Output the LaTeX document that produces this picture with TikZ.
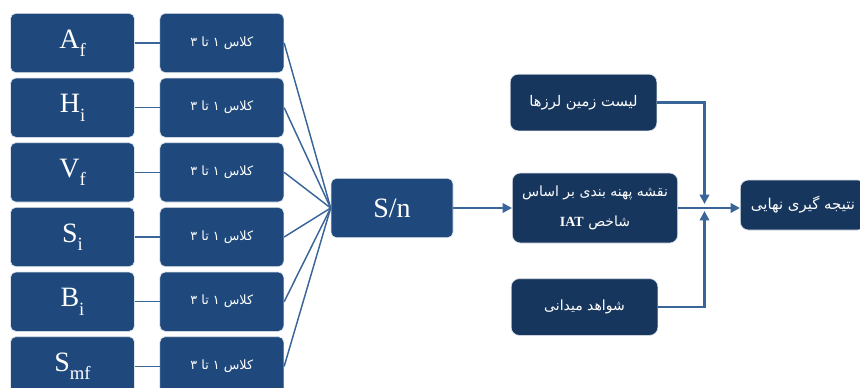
\documentclass[tikz,border=0pt]{standalone}
\usepackage{fontspec}
\setmainfont{Liberation Serif}
\newfontfamily\farsi[Script=Arabic]{DejaVu Sans}
\TeXXeTstate=1
\usepackage{tikz}
\usetikzlibrary{positioning, arrows.meta}
\definecolor{boxblue}{RGB}{31,73,125}
\definecolor{darkblue}{RGB}{23,54,93}
\definecolor{lineblue}{RGB}{58,101,152}
\tikzstyle{factor} = [rectangle, rounded corners=4pt, minimum width=93pt, minimum height=44.5pt, text centered, draw=white!85!boxblue, line width=0.5pt, fill=boxblue, text=white, font=\fontsize{21}{24}\selectfont]
\tikzstyle{klass} = [factor, font=\farsi\fontsize{9.6}{11}\selectfont]
\tikzstyle{source} = [rectangle, rounded corners=6pt, minimum width=110pt, minimum height=42.5pt, text centered, align=center, draw=white!85!darkblue, line width=0.5pt, fill=darkblue, text=white, font=\farsi\fontsize{10.5}{22}\selectfont]
\tikzstyle{link} = [lineblue, line width=1.1pt]
\tikzstyle{arrow} = [lineblue, line width=1.8pt, -{Triangle[length=7pt,width=7pt]}]
\newcommand{\fsub}[2]{#1\raisebox{-0.3em}{\fontsize{14}{14}\selectfont #2}}
\newcommand{\fa}[1]{\beginR #1\endR}

\begin{document}
\begin{tikzpicture}[x=0.75pt, y=-0.75pt]
  \useasboundingbox (0,0) rectangle (860,387);

        % Indicators
        \node (af) [factor] at (72.5,43) {\fsub{A}{f}};
        \node (hi) [factor, below=3.5pt of af] {\fsub{H}{i}};
        \node (vf) [factor, below=3.5pt of hi] {\fsub{V}{f}};
        \node (si) [factor, below=3.5pt of vf] {\fsub{S}{i}};
        \node (bi) [factor, below=3.5pt of si] {\fsub{B}{i}};
        \node (smf) [factor, below=3.5pt of bi] {\fsub{S}{mf}};

        % Classes
        \node (caf) [klass, right=18.5pt of af] {\fa{کلاس ۱ تا ۳}};
        \node (chi) [klass, right=18.5pt of hi] {\fa{کلاس ۱ تا ۳}};
        \node (cvf) [klass, right=18.5pt of vf] {\fa{کلاس ۱ تا ۳}};
        \node (csi) [klass, right=18.5pt of si] {\fa{کلاس ۱ تا ۳}};
        \node (cbi) [klass, right=18.5pt of bi] {\fa{کلاس ۱ تا ۳}};
        \node (csmf) [klass, right=18.5pt of smf] {\fa{کلاس ۱ تا ۳}};

        % Combined index
        \node (sn) [factor, minimum width=91.5pt] at (392,208) {S/n};

        % Sources
        \node (zoning) [source, minimum width=124pt, minimum height=52.5pt] at (595,208) {\fa{نقشه پهنه بندی بر اساس}\\\fa{شاخص \beginL{\rmfamily\bfseries IAT}\endL}};
        \node (quakes) [source, font=\farsi\fontsize{11}{14}\selectfont] at (583.5,102.5) {\fa{لیست زمین لرزها}};
        \node (field) [source] at (584.5,307) {\fa{شواهد میدانی}};

        % Result
        \node (result) [source, minimum width=94pt, minimum height=37.5pt, anchor=west, font=\farsi\fontsize{11.2}{14}\selectfont] at (740,205) {\fa{نتیجه گیری نهایی}};

        \coordinate (jtop) at (704.5,204);
        \coordinate (jbot) at (704.5,211);

        % Links
        \draw [link] (af) -- (caf);
        \draw [link] (hi) -- (chi);
        \draw [link] (vf) -- (cvf);
        \draw [link] (si) -- (csi);
        \draw [link] (bi) -- (cbi);
        \draw [link] (smf) -- (csmf);

        \draw [link] (caf.east) -- (sn.west);
        \draw [link] (chi.east) -- (sn.west);
        \draw [link] (cvf.east) -- (sn.west);
        \draw [link] (csi.east) -- (sn.west);
        \draw [link] (cbi.east) -- (sn.west);
        \draw [link] (csmf.east) -- (sn.west);

        % Arrows
        \draw [arrow] (sn) -- (zoning);
        \draw [arrow] (zoning.east) -- (result.west |- zoning.east);
        \draw [arrow] (quakes.east) -| (jtop);
        \draw [arrow] (field.east) -| (jbot);

    \end{tikzpicture}
\end{document}
